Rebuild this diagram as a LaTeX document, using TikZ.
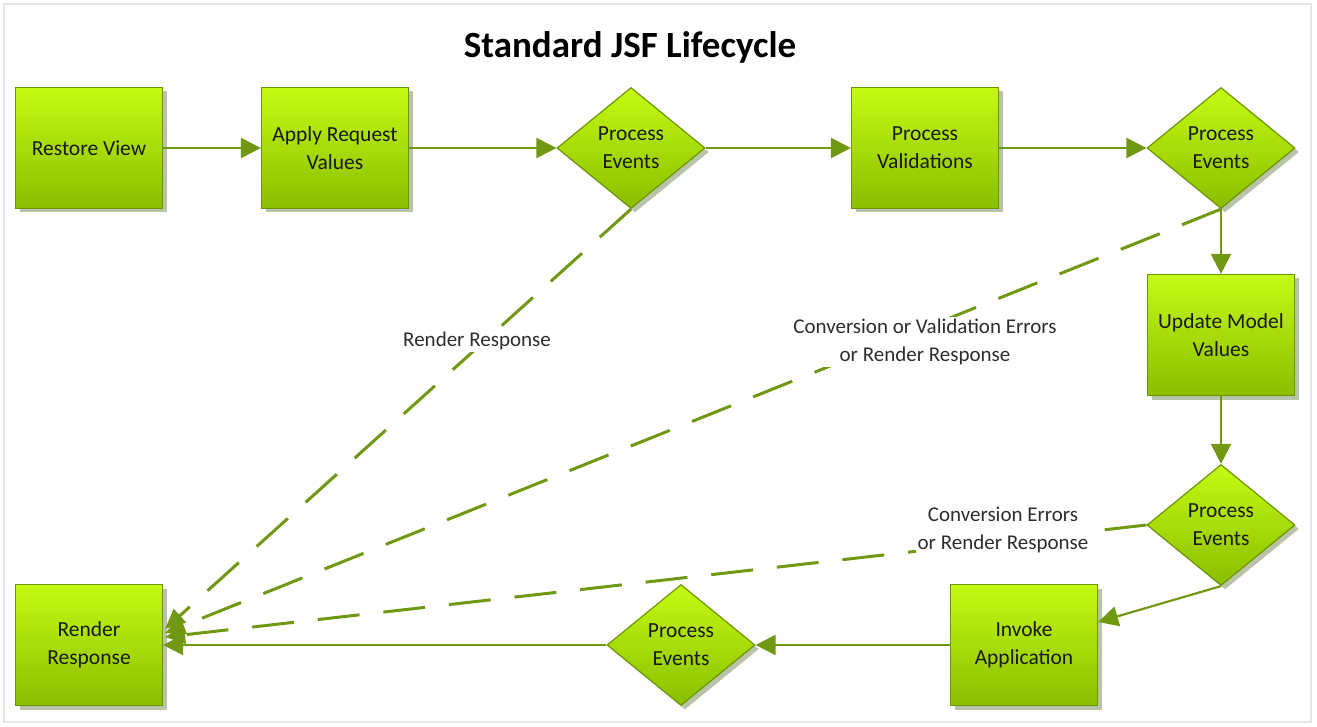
\documentclass[tikz,border=0pt]{standalone}
\usepackage{fontspec}
\setmainfont{Carlito}
\usetikzlibrary{shapes.geometric,arrows.meta,shadows,calc}
\definecolor{lineg}{RGB}{112,152,18}
\definecolor{edgeg}{RGB}{108,150,0}
\definecolor{topg}{RGB}{198,250,20}
\definecolor{botg}{RGB}{138,190,0}
\definecolor{shad}{RGB}{185,195,170}
\definecolor{txt}{RGB}{25,25,25}
\definecolor{lbl}{RGB}{45,45,45}
\begin{document}
\begin{tikzpicture}[x=1pt,y=-1pt,
  phase/.style={rectangle,draw=edgeg,line width=1.2pt,top color=topg,bottom color=botg,
    minimum width=147pt,minimum height=121pt,inner sep=0pt,align=center,
    font=\fontsize{21.5}{28}\selectfont,text=txt,
    drop shadow={shadow xshift=4pt,shadow yshift=-4pt,fill=shad,opacity=1}},
  decide/.style={diamond,draw=edgeg,line width=1.2pt,top color=topg,bottom color=botg,
    aspect=1.223,minimum width=148pt,minimum height=121pt,inner sep=0pt,align=center,
    font=\fontsize{21.5}{28}\selectfont,text=txt,
    drop shadow={shadow xshift=4pt,shadow yshift=-4pt,fill=shad,opacity=1}},
  flow/.style={draw=lineg,line width=2.2pt,-{Triangle[length=20pt,width=20pt]}},
  dflow/.style={draw=lineg,line width=3pt,dash pattern=on 42pt off 24pt,
    -{Triangle[length=20pt,width=18pt]}},
  lab/.style={fill=white,align=center,text=lbl,font=\fontsize{21}{28}\selectfont,inner sep=2pt}]
\useasboundingbox (0,0) rectangle (1317,727);
\draw[gray!20,line width=2pt] (4,4) rectangle (1311,722);
\node[font=\bfseries\fontsize{37}{40}\selectfont,text=black] (title) at (630,47) {Standard JSF Lifecycle};

\node[phase] (rv) at (89,148) {Restore View};
\node[phase] (arv) at (335,148) {Apply Request\\Values};
\node[decide] (d1) at (631,148) {Process\\Events};
\node[phase] (pv) at (925,148) {Process\\Validations};
\node[decide] (d2) at (1221,148) {Process\\Events};
\node[phase] (umv) at (1221,335) {Update Model\\Values};
\node[decide] (d3) at (1221,525) {Process\\Events};
\node[phase] (ia) at (1024,645) {Invoke\\Application};
\node[decide] (d4) at (681,645) {Process\\Events};
\node[phase] (rr) at (89,645) {Render\\Response};

\coordinate (e1) at ($(rr.east)+(2,-16)$);
\coordinate (e2) at ($(rr.east)+(2,-12)$);
\coordinate (e3) at ($(rr.east)+(2,-8)$);
\coordinate (iae) at ($(ia.east)+(0,-23)$);

\draw[dflow] (d1.south) -- (e1);
\draw[dflow] (d2.south) -- (e2);
\draw[dflow] (d3.west) -- (e3);

\draw[flow] (rv) -- (arv);
\draw[flow] (arv) -- (d1);
\draw[flow] (d1) -- (pv);
\draw[flow] (pv) -- (d2);
\draw[flow] (d2) -- (umv);
\draw[flow] (umv) -- (d3);
\draw[flow] (d3.south) -- (iae);
\draw[flow] (ia) -- (d4);
\draw[flow] (d4) -- (rr);

\node[lab] (l1) at (477,341) {Render Response};
\node[lab] (l2) at (925,342) {Conversion or Validation Errors\\or Render Response};
\node[lab] (l3) at (1003,530) {Conversion Errors\\or Render Response};
\end{tikzpicture}
\end{document}
